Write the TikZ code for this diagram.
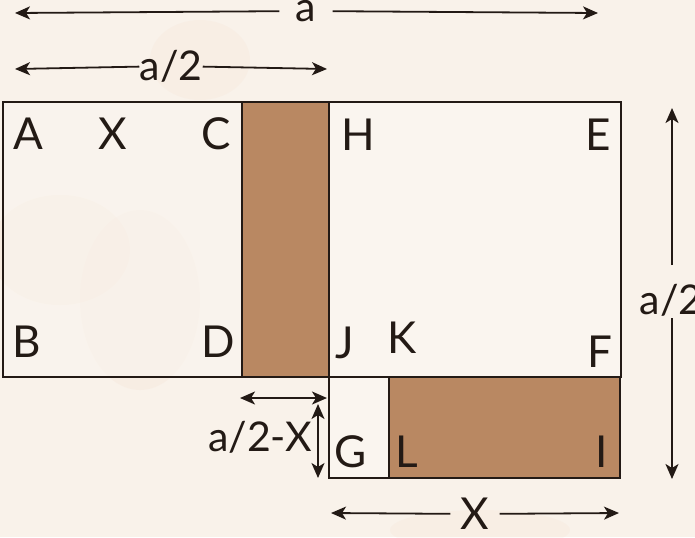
\documentclass[tikz,border=0pt]{standalone}
\usepackage{fontspec}
\setmainfont{Lato}
\usetikzlibrary{arrows.meta}
\definecolor{bg}{HTML}{F9F2EA}
\definecolor{inner}{HTML}{FAF5EF}
\definecolor{blush}{HTML}{F0CDB8}
\definecolor{brownfill}{HTML}{B98862}
\definecolor{ink}{HTML}{231A15}
\begin{document}
\begin{tikzpicture}[x=0.5pt,y=-0.5pt,
  box/.style={draw=ink, line width=1pt},
  lbl/.style={font=\fontsize{22}{22}\selectfont, text=ink, inner sep=0pt},
  dlbl/.style={font=\fontsize{20.5}{20.5}\selectfont, text=ink, inner sep=0pt},
  tip/.style={-{Stealth[length=7.5pt,width=6.5pt,inset=2pt]}},
  dim/.style={draw=ink, line width=0.9pt},
  dimboth/.style={dim, {Stealth[length=7.5pt,width=6.5pt,inset=2pt]}-{Stealth[length=7.5pt,width=6.5pt,inset=2pt]}},
]
\fill[bg] (0,0) rectangle (695,537);
\useasboundingbox (0,0) rectangle (695,537);
% faint texture
\fill[blush, opacity=0.18] (60,250) ellipse (70 and 55);
\fill[blush, opacity=0.12] (140,300) ellipse (60 and 90);
\fill[blush, opacity=0.10] (200,60) ellipse (50 and 40);
\fill[blush, opacity=0.10] (480,530) ellipse (90 and 20);

% rectangles
\draw[box, fill=inner, fill opacity=0.6] (3,102) rectangle (242,377);
\draw[box, fill=brownfill] (242,102) rectangle (329,377);
\draw[box, fill=inner] (329,102) rectangle (621,377);
\draw[box, fill=inner] (329,377) rectangle (389,478);
\draw[box, fill=brownfill] (389,377) rectangle (620,478);

% corner letters
\node[lbl] (A) at (28,134) {A};
\node[lbl] (X1) at (113,134) {X};
\node[lbl] (C) at (216,134) {C};
\node[lbl] (B) at (27,342) {B};
\node[lbl] (D) at (218,342) {D};
\node[lbl] (H) at (358,135) {H};
\node[lbl] (E) at (598,135) {E};
\node[lbl] (J) at (345,343) {J};
\node[lbl] (K) at (402,338) {K};
\node[lbl] (F) at (600,352) {F};
\node[lbl] (G) at (351,452) {G};
\node[lbl] (L) at (407,452) {L};
\node[lbl] (I) at (602,452) {I};

% top dimension a
\coordinate (ta1) at (15,13);
\coordinate (ta2) at (598,13);
\node[dlbl, inner xsep=8pt] (la) at (306,11) {a};
\draw[dim, tip] (la) -- (ta1);
\draw[dim, tip] (la) -- (ta2);

% a/2 top
\coordinate (th1) at (15,69);
\coordinate (th2) at (327,69);
\node[dlbl] (lh) at (171,66) {a/2};
\draw[dim, tip] (lh) -- (th1);
\draw[dim, tip] (lh) -- (th2);

% a/2 right vertical
\coordinate (r1) at (672,108);
\coordinate (r1b) at (672,265);
\coordinate (r2b) at (672,318);
\coordinate (r2) at (672,479);
\node[dlbl] (lr) at (671,300) {a/2};
\draw[dim, tip] (r1b) -- (r1);
\draw[dim, tip] (r2b) -- (r2);

% X bottom
\coordinate (bx1) at (331,513);
\coordinate (bx2) at (619,513);
\node[lbl, inner xsep=5pt] (lx) at (475,514) {X};
\draw[dim, tip] (lx) -- (bx1);
\draw[dim, tip] (lx) -- (bx2);

% a/2-X
\coordinate (hx1) at (240,398);
\coordinate (hx2) at (327,398);
\coordinate (vx1) at (318,404);
\coordinate (vx2) at (318,478);
\draw[dimboth] (hx1) -- (hx2);
\draw[dimboth] (vx1) -- (vx2);
\node[dlbl] (lax) at (260,437) {a/2-X};
\end{tikzpicture}
\end{document}
